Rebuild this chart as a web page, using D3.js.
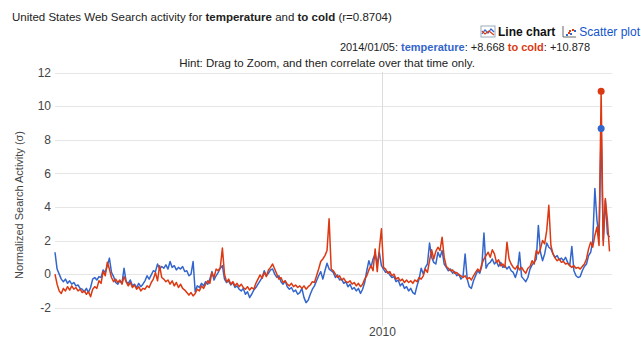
<!DOCTYPE html>
<html>
<head>
<meta charset="utf-8">
<script src="https://cdnjs.cloudflare.com/ajax/libs/d3/7.8.5/d3.min.js"></script>
<style>
  body { margin: 0; background: #fff; font-family: Arial, "Liberation Sans", sans-serif; }
</style>
</head>
<body>
<div id="chart-area"></div>
<script>

// samples every 2 weeks starting 2004/01/04
var startDate = "2004-01-04",
    stepDays = 14;

var temperature = [
  1.3, 0.3, 0.0, -0.3, -0.45, -0.3, -0.55, -0.4, -0.6, -0.5, -0.7, -0.65, -0.85, -0.9, -1.05, -0.85, -1.1, -0.8, -0.3, -0.2, -0.35, -0.15, -0.2, 0.25, 0.1, 0.5,
  0.95, 0.1, -0.15, -0.5, -0.6, -0.4, -0.55, 0.35, -0.45, -0.55, -0.35, -0.7, -0.6, -0.8, -0.55, -0.75, -0.6, -0.4, -0.1, -0.3, -0.05, 0.2, 0.15, 0.6, 0.3, 0.45,
  0.35, 0.55, 0.3, 0.75, 0.4, 0.5, 0.25, 0.4, 0.3, 0.45, 0.15, 0.2, -0.1, 0.0, 0.75, -1.05, -0.7, -0.8, -0.55, -0.7, -0.45, -0.6, -0.3, 0.15, -0.35, -0.1,
  0.1, 0.35, 0.5, -0.3, -0.5, -0.4, -0.65, -0.5, -0.8, -0.7, -0.9, -1.0, -0.85, -1.2, -1.05, -1.4, -1.2, -0.95, -0.8, -0.6, -0.4, -0.2, 0.2, -0.1, 0.05, 0.25,
  0.3, 0.0, -0.2, -0.1, -0.45, -0.6, -0.4, -0.75, -0.9, -0.8, -1.05, -0.95, -1.2, -1.1, -0.85, -1.4, -1.7, -1.55, -1.2, -0.9, -0.7, -0.4, -0.1, 0.15, -0.3, 0.2,
  0.65, 0.3, 0.2, 0.1, -0.2, -0.05, -0.35, -0.3, -0.55, -0.45, -0.75, -0.6, -0.9, -0.8, -1.0, -0.85, -1.15, -0.9, -0.5, 0.2, 0.8, 0.4, 0.9, 1.2, 0.6, 1.3,
  0.5, 0.3, 0.1, 0.15, -0.05, -0.2, -0.15, -0.45, -0.35, -0.7, -0.55, -0.85, -0.75, -1.0, -0.85, -1.1, -1.2, -0.7, -0.3, 0.35, 0.0, 0.4, 0.6, 1.85, 1.0, 0.7,
  0.6, 1.3, 1.0, 1.4, 0.6, 0.4, 0.2, 0.3, 0.05, 0.15, -0.1, 0.0, -0.3, -0.15, 1.2, -0.3, -0.75, -0.85, -0.4, -0.1, 0.2, 0.05, 0.5, 2.45, 0.35, 0.6,
  0.7, 0.9, 0.6, 0.75, 0.45, 0.7, 0.4, 0.5, 0.3, 0.45, 0.2, 0.1, -0.2, 0.2, 1.3, -0.15, -0.3, -0.45, -0.2, 0.3, 0.55, 0.7, 0.9, 2.9, 1.3, 0.8,
  1.2, 1.85, 1.6, 1.5, 1.2, 1.0, 1.1, 0.85, 0.95, 0.8, 1.0, 0.7, 0.5, 1.65, 0.2, -0.1, -0.2, -0.15, 0.2, 0.45, 0.6, 1.1, 1.3, 2.0, 5.1, 3.2,
  2.3, 8.668, 2.0, 4.4, 2.4, 2.2
];

var toCold = [
  0.0, -0.6, -1.0, -1.15, -0.85, -1.0, -0.75, -0.95, -0.7, -0.9, -0.8, -1.0, -0.9, -1.1, -1.0, -1.2, -1.05, -1.35, -0.9, -0.75, -0.85, -0.4, -0.55, 0.15, -0.1, 0.7,
  0.3, -0.2, -0.45, -0.3, -0.5, -0.35, -0.6, -0.15, -0.45, -0.7, -0.5, -0.8, -0.65, -0.9, -0.75, -1.0, -0.85, -0.9, -0.7, -0.8, -0.5, -0.3, 0.1, -0.4, 0.5, -0.2,
  -0.3, -0.45, -0.35, -0.6, -0.4, -0.7, -0.5, -0.8, -0.6, -0.85, -0.95, -1.1, -1.25, -1.1, -1.3, -1.15, -0.9, -1.0, -0.7, -0.85, -0.6, -0.4, -0.55, 0.1, -0.2, 0.3,
  0.2, 0.4, 1.55, 0.0, -0.45, -0.3, -0.6, -0.45, -0.7, -0.55, -0.75, -0.6, -0.8, -0.9, -0.75, -0.95, -0.8, -0.9, -0.55, -0.3, -0.05, -0.25, 0.1, -0.15, 0.25, 0.4,
  0.6, 0.3, 0.0, -0.3, -0.2, -0.5, -0.4, -0.6, -0.7, -0.55, -0.75, -0.65, -0.8, -0.7, -0.85, -0.7, -0.9, -0.75, -0.65, -0.45, -0.5, -0.1, 0.3, 0.75, 0.9, 1.1,
  1.4, 3.3, 0.3, 0.2, 0.0, -0.2, -0.1, -0.35, -0.25, -0.45, -0.5, -0.4, -0.6, -0.5, -0.7, -0.55, -0.75, -0.6, -0.3, -0.1, 0.25, 0.5, 0.2, 1.5, 0.15, 1.5,
  2.7, 0.4, 0.3, 0.05, 0.15, -0.1, 0.0, -0.3, -0.2, -0.4, -0.3, -0.5, -0.35, -0.5, -0.4, -0.55, -0.35, -0.45, -0.2, -0.3, -0.1, 0.3, 0.1, 0.8, 1.45, 0.9,
  1.35, 1.6, 1.4, 2.2, 1.0, 0.45, 0.35, 0.2, 0.25, 0.05, 0.1, -0.05, -0.1, -0.2, -0.1, -0.3, -0.2, -0.35, -0.1, 0.1, 0.3, 0.15, 0.6, 0.9, 1.1, 1.3,
  1.0, 1.45, 1.2, 0.7, 0.85, 0.5, 0.6, 0.4, 1.9, 0.9, 0.6, 0.4, 0.3, 0.5, 0.25, 0.4, 0.2, 0.05, 0.35, 0.45, 0.8, 0.6, 1.4, 1.2, 1.5, 2.0,
  1.8, 2.6, 4.1, 1.7, 1.2, 0.95, 0.8, 0.9, 0.7, 0.75, 0.6, 0.65, 0.5, 0.4, 0.5, 0.35, 0.4, 0.3, 0.45, 0.6, 0.9, 1.5, 1.9, 1.6, 2.3, 2.8,
  1.7, 10.878, 1.7, 4.5, 3.2, 1.35
];

var yTicks = [-2, 0, 2, 4, 6, 8, 10, 12];
var xTickDates = ["2010-01-03"];
var xTickLabels = ["2010"];

// selected point shown in the header
var selDate = "2014-01-05",
    selLabel = "2014/01/05",
    selTemperature = "+8.668",
    selToCold = "+10.878";

var width = 641,
    height = 340;

var blue = "#3366cc",
    red = "#dc3912";

var svg = d3.select("#chart-area").append("svg")
    .attr("width", width)
    .attr("height", height)
    .style("display", "block");

var parse = d3.timeParse("%Y-%m-%d");
var t0 = parse(startDate);

var rows = temperature.map(function(v, i) {
  return { date: d3.timeDay.offset(t0, i * stepDays), temperature: v, toCold: toCold[i] };
});

var x = d3.scaleTime()
    .domain([t0, rows[rows.length - 1].date])
    .range([55, 609.5]);

var y = d3.scaleLinear()
    .domain([-3, 12])
    .range([324.5, 72.5]);

// gridlines
svg.append("g").selectAll("line")
    .data(yTicks)
    .enter().append("line")
    .attr("x1", 55).attr("x2", 612)
    .attr("y1", d => Math.round(y(d)) + 0.5)
    .attr("y2", d => Math.round(y(d)) + 0.5)
    .attr("stroke", "#e6e6e6");

svg.append("g").selectAll("line")
    .data(xTickDates)
    .enter().append("line")
    .attr("x1", d => Math.round(x(parse(d))) + 0.5)
    .attr("x2", d => Math.round(x(parse(d))) + 0.5)
    .attr("y1", 72).attr("y2", 326)
    .attr("stroke", "#dcdcdc");

// tick labels
svg.append("g").selectAll("text")
    .data(yTicks)
    .enter().append("text")
    .attr("x", 51)
    .attr("y", d => y(d))
    .attr("dy", "0.35em")
    .attr("text-anchor", "end")
    .attr("font-size", 12)
    .attr("fill", "#444")
    .text(d => d);

svg.append("g").selectAll("text")
    .data(xTickDates)
    .enter().append("text")
    .attr("x", d => x(parse(d)))
    .attr("y", 336)
    .attr("text-anchor", "middle")
    .attr("font-size", 12)
    .attr("fill", "#444")
    .text((d, i) => xTickLabels[i]);

svg.append("text")
    .attr("transform", "translate(23,205) rotate(-90)")
    .attr("text-anchor", "middle")
    .attr("font-size", 11)
    .attr("fill", "#444")
    .text("Normalized Search Activity (σ)");

// lines
var lineT = d3.line().x(d => x(d.date)).y(d => y(d.temperature));
var lineC = d3.line().x(d => x(d.date)).y(d => y(d.toCold));

svg.append("path")
    .datum(rows)
    .attr("d", lineT)
    .attr("fill", "none")
    .attr("stroke", blue)
    .attr("stroke-width", 1.5)
    .attr("stroke-linejoin", "round");

svg.append("path")
    .datum(rows)
    .attr("d", lineC)
    .attr("fill", "none")
    .attr("stroke", red)
    .attr("stroke-width", 1.5)
    .attr("stroke-linejoin", "round");

// selected point markers
var sel = rows.filter(d => +d.date === +parse(selDate));
svg.selectAll(".dot")
    .data([{ v: sel[0].temperature, c: blue }, { v: sel[0].toCold, c: red }])
    .enter().append("circle")
    .attr("class", "dot")
    .attr("cx", x(sel[0].date))
    .attr("cy", d => y(d.v))
    .attr("r", 3.5)
    .attr("fill", d => d.c);

// title
var title = svg.append("text")
    .attr("x", 12).attr("y", 21)
    .attr("font-size", 11.5)
    .attr("fill", "#222");
title.append("tspan").text("United States Web Search activity for ");
title.append("tspan").attr("font-weight", "bold").text("temperature");
title.append("tspan").text(" and ");
title.append("tspan").attr("font-weight", "bold").text("to cold");
title.append("tspan").text(" (r=0.8704)");

// legend icons
function lineIcon(g, px, py) {
  g.append("rect").attr("x", px).attr("y", py).attr("width", 14).attr("height", 11)
    .attr("fill", "#fff").attr("stroke", "#9ab");
  g.append("polyline").attr("points", [[px+1,py+8],[px+4,py+4],[px+7,py+7],[px+10,py+3],[px+13,py+6]].join(" "))
    .attr("fill", "none").attr("stroke", blue).attr("stroke-width", 1.2);
  g.append("polyline").attr("points", [[px+1,py+5],[px+4,py+8],[px+8,py+5],[px+13,py+9]].join(" "))
    .attr("fill", "none").attr("stroke", red).attr("stroke-width", 1.2);
}
function scatterIcon(g, px, py) {
  g.append("polyline").attr("points", [[px+1,py],[px+1,py+11],[px+14,py+11]].join(" "))
    .attr("fill", "none").attr("stroke", "#666");
  [[4,8,blue],[6,6,red],[8,7,blue],[10,3,red],[12,4,blue],[7,4,red]].forEach(function(p) {
    g.append("rect").attr("x", px+p[0]).attr("y", py+p[1]).attr("width", 2).attr("height", 2).attr("fill", p[2]);
  });
}

var legend = svg.append("g");
lineIcon(legend, 481, 26);
legend.append("text").attr("x", 498).attr("y", 36).attr("font-size", 12)
    .attr("font-weight", "bold").attr("fill", "#111").text("Line chart");
scatterIcon(legend, 562, 26);
legend.append("text").attr("x", 640).attr("y", 36).attr("font-size", 12)
    .attr("text-anchor", "end")
    .attr("fill", "#1155cc").text("Scatter plot");

// selected values
var info = svg.append("text")
    .attr("x", 590).attr("y", 51)
    .attr("text-anchor", "end")
    .attr("font-size", 11)
    .attr("fill", "#222");
info.append("tspan").text(selLabel + ": ");
info.append("tspan").attr("font-weight", "bold").attr("fill", blue).text("temperature");
info.append("tspan").text(": " + selTemperature + " ");
info.append("tspan").attr("font-weight", "bold").attr("fill", red).text("to cold");
info.append("tspan").text(": " + selToCold);

svg.append("text")
    .attr("x", 327).attr("y", 67)
    .attr("text-anchor", "middle")
    .attr("font-size", 11.5)
    .attr("fill", "#222")
    .text("Hint: Drag to Zoom, and then correlate over that time only.");

</script>
</body>
</html>
